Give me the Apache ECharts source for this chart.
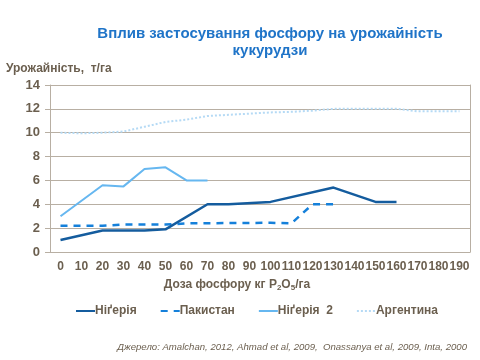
<!DOCTYPE html>
<html><head><meta charset="utf-8">
<script src="https://cdn.jsdelivr.net/npm/echarts@6/dist/echarts.min.js"></script>
<style>html,body{margin:0;padding:0;background:#fff}#c{width:480px;height:360px}</style>
</head><body><div id="c"></div>
<script>
const categories = ['0','10','20','30','40','50','60','70','80','90','100','110','120','130','140','150','160','170','180','190'];
const nigeria   = [1.0, null, 1.8, null, 1.8, 1.9, null, 4.0, 4.0, null, 4.2, null, null, 5.4, null, 4.2, 4.2, null, null, null];
const pakistan  = [2.2, null, 2.2, 2.3, null, 2.3, 2.4, null, null, null, 2.45, 2.4, 4.0, 4.0, null, null, null, null, null, null];
const nigeria2  = [3.0, null, 5.6, 5.5, 6.95, 7.1, 6.0, 6.0, null, null, null, null, null, null, null, null, null, null, null, null];
const argentina = [10.0, 9.95, 10.0, 10.1, 10.5, 10.9, 11.1, 11.4, 11.5, 11.6, 11.7, 11.75, 11.85, 12.0, 12.0, 12.0, 12.0, 11.8, 11.8, 11.8];
const yTicks = [0, 2, 4, 6, 8, 10, 12, 14];

const txt = '#6B5F4F';
const grid = '#B8AFA3';
const chart = echarts.init(document.getElementById('c'));
chart.setOption({
  animation: false,
  title: {
    text: 'Вплив застосування фосфору на урожайність\nкукурудзи',
    left: 265, top: 20, textAlign: 'center',
    textStyle: {fontFamily: 'Liberation Sans', fontSize: 15, fontWeight: 'bold', color: '#1F74C8', lineHeight: 17}
  },
  grid: {left: 50, right: 10, top: 85, bottom: 108},
  legend: {
    top: 300, left: 70, itemGap: 23, itemWidth: 19, itemHeight: 10,
    itemStyle: {opacity: 0},
    textStyle: {fontFamily: 'Liberation Sans', fontSize: 12, fontWeight: 'bold', color: txt, padding: [0,0,0,-5]},
    data: ['Ніґерія', 'Пакистан', 'Ніґерія  2', 'Аргентина']
  },
  xAxis: {
    type: 'category', data: categories, boundaryGap: true,
    name: '{a|Доза фосфору кг P}{s|2}{a|O}{s|5}{a|/га}', nameLocation: 'middle', nameGap: 26,
    nameTextStyle: {padding: [0, 46, 0, 0], rich: {
      a: {fontFamily: 'Liberation Sans', fontSize: 12, fontWeight: 'bold', color: txt},
      s: {fontFamily: 'Liberation Sans', fontSize: 8, fontWeight: 'bold', color: txt, verticalAlign: 'bottom', padding: [6,0,0,0]}
    }},
    axisLine: {lineStyle: {color: grid}},
    axisTick: {interval: 1, length: 5, lineStyle: {color: grid}},
    axisLabel: {interval: 0, margin: 9, fontFamily: 'Liberation Sans', fontSize: 12, fontWeight: 'bold', color: txt}
  },
  yAxis: [{
    type: 'value', min: yTicks[0], max: yTicks[yTicks.length-1], interval: 2,
    name: 'Урожайність,  т/га', nameLocation: 'end', nameGap: 10,
    nameTextStyle: {fontFamily: 'Liberation Sans', fontSize: 12, fontWeight: 'bold', color: txt, align: 'left', padding: [0,0,0,-44]},
    axisLine: {show: true, lineStyle: {color: grid}},
    axisTick: {show: true, length: 5, lineStyle: {color: grid}},
    axisLabel: {margin: 10, fontFamily: 'Liberation Sans', fontSize: 13, fontWeight: 'bold', color: txt},
    splitLine: {lineStyle: {color: grid}}
  }, {
    type: 'value', min: 0, max: 14, interval: 2, position: 'right',
    axisLine: {show: true, lineStyle: {color: grid}},
    axisTick: {show: false}, axisLabel: {show: false}, splitLine: {show: false}
  }],
  series: [
    {name: 'Ніґерія', type: 'line', data: nigeria, connectNulls: true, showSymbol: false, symbol: 'none',
     lineStyle: {color: '#145C9E', width: 2.5}, itemStyle: {color: '#145C9E'}, z: 5},
    {name: 'Пакистан', type: 'line', data: pakistan, connectNulls: true, showSymbol: false, symbol: 'none',
     lineStyle: {color: '#1580DA', width: 2.5, type: [7, 6]}, itemStyle: {color: '#1580DA'}, z: 4},
    {name: 'Ніґерія  2', type: 'line', data: nigeria2, connectNulls: true, showSymbol: false, symbol: 'none',
     lineStyle: {color: '#66B7F0', width: 2}, itemStyle: {color: '#66B7F0'}, z: 3},
    {name: 'Аргентина', type: 'line', data: argentina, connectNulls: true, showSymbol: false, symbol: 'none',
     lineStyle: {color: '#B5DAF5', width: 2, type: [2, 2]}, itemStyle: {color: '#B5DAF5'}, z: 2}
  ],
  graphic: [{
    type: 'text', right: 13, top: 342,
    style: {text: 'Джерело: Amalchan, 2012, Ahmad et al, 2009,  Onassanya et al, 2009, Inta, 2000',
      font: 'italic 9.6px "Liberation Sans"', fill: txt}
  }]
});
</script></body></html>
